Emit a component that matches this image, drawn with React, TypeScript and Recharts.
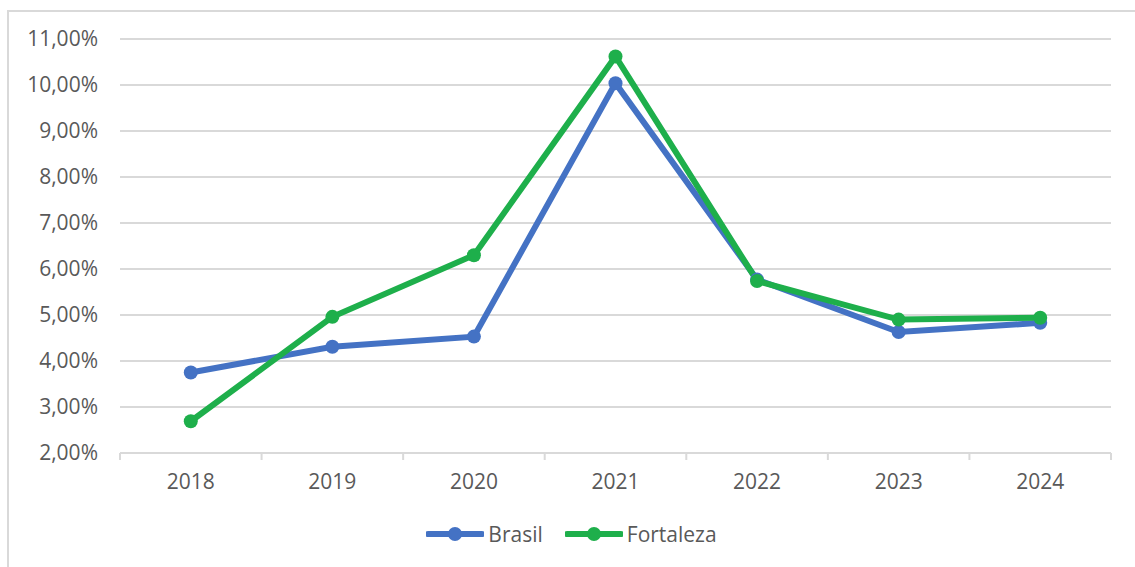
import React from 'react';
import { LineChart, Line, XAxis, YAxis, CartesianGrid } from 'recharts';

const years = [2018, 2019, 2020, 2021, 2022, 2023, 2024];
const brasil = [3.75, 4.31, 4.53, 10.04, 5.77, 4.63, 4.83];
const fortaleza = [2.69, 4.96, 6.3, 10.62, 5.74, 4.9, 4.94];
const yTicks = [2, 3, 4, 5, 6, 7, 8, 9, 10, 11];

// ticks at the category centres (labels) and at the boundaries (tick marks)
const xTicks = [2017.5, ...years.flatMap((y) => [y, y + 0.5])];

const data = years.map((year, i) => ({
  year,
  brasil: brasil[i],
  fortaleza: fortaleza[i],
}));

const BLUE = '#4472C4';
const GREEN = '#1EAF4B';
const TEXT = '#595959';
const GRID = '#d9d9d9';
const FONT = '"Open Sans", sans-serif';

const XTick = (props: any) => {
  const { x, y, payload } = props;
  const v = payload.value as number;
  if (Number.isInteger(v)) {
    return (
      <text x={x} y={y + 36} textAnchor="middle" fill={TEXT} fontSize={21} fontFamily={FONT}>
        {v}
      </text>
    );
  }
  return <line x1={x} x2={x} y1={y} y2={y + 7} stroke={GRID} strokeWidth={2} />;
};

const LegendItem = ({ color, label }: { color: string; label: string }) => (
  <div style={{ display: 'flex', alignItems: 'center', marginRight: 22 }}>
    <svg width={58} height={16}>
      <line x1={2} x2={56} y1={8} y2={8} stroke={color} strokeWidth={6} strokeLinecap="round" />
      <circle cx={29} cy={8} r={7} fill={color} />
    </svg>
    <span style={{ marginLeft: 4, color: TEXT, fontSize: 21, fontFamily: FONT }}>{label}</span>
  </div>
);

export default function App() {
  return (
    <div style={{ position: 'absolute', left: 0, top: 0, width: 1135, height: 567, background: '#fff' }}>
      <div
        style={{
          position: 'absolute',
          left: 7,
          top: 10,
          width: 1140,
          height: 600,
          borderLeft: `2px solid ${GRID}`,
          borderTop: `2px solid ${GRID}`,
        }}
      />
      <LineChart
        width={1135}
        height={567}
        data={data}
        margin={{ top: 39, right: 24, bottom: 54, left: 0 }}
        style={{ position: 'absolute', left: 0, top: 0 }}
      >
        <CartesianGrid vertical={false} stroke={GRID} strokeWidth={2} />
        <XAxis
          dataKey="year"
          type="number"
          domain={[2017.5, 2024.5]}
          ticks={xTicks}
          interval={0}
          height={60}
          tickLine={false}
          tickSize={0}
          tickMargin={0}
          axisLine={{ stroke: GRID, strokeWidth: 2 }}
          tick={<XTick />}
        />
        <YAxis
          domain={[2, 11]}
          ticks={yTicks}
          width={120}
          axisLine={false}
          tickLine={false}
          tickSize={0}
          tickMargin={22}
          tickFormatter={(v: number) => `${v.toFixed(2).replace('.', ',')}%`}
          tick={{ fill: TEXT, fontSize: 21, fontFamily: FONT }}
        />
        <Line
          dataKey="brasil"
          stroke={BLUE}
          strokeWidth={6}
          dot={{ r: 7, fill: BLUE, stroke: BLUE, strokeWidth: 0 }}
          isAnimationActive={false}
        />
        <Line
          dataKey="fortaleza"
          stroke={GREEN}
          strokeWidth={6}
          dot={{ r: 7, fill: GREEN, stroke: GREEN, strokeWidth: 0 }}
          isAnimationActive={false}
        />
      </LineChart>
      <div
        style={{
          position: 'absolute',
          left: 0,
          top: 520,
          width: 1135,
          display: 'flex',
          justifyContent: 'center',
          paddingLeft: 30,
          boxSizing: 'border-box',
        }}
      >
        <LegendItem color={BLUE} label="Brasil" />
        <LegendItem color={GREEN} label="Fortaleza" />
      </div>
    </div>
  );
}
